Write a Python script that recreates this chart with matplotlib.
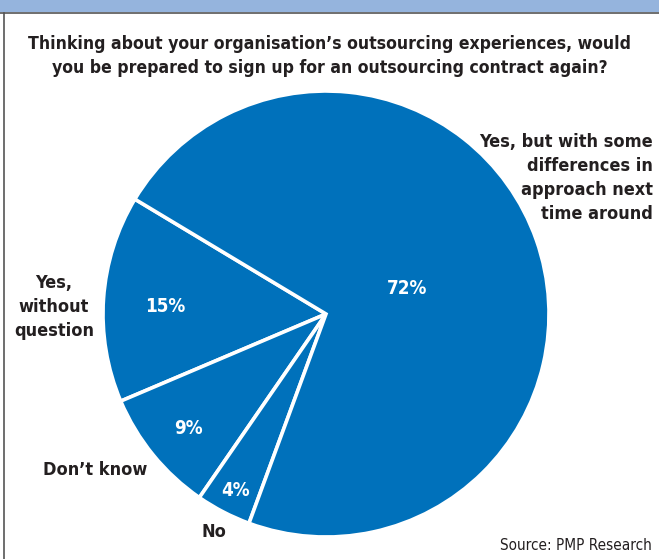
import matplotlib
matplotlib.use("Agg")
import matplotlib.pyplot as plt
from matplotlib.patches import Rectangle
from matplotlib.lines import Line2D

plt.rcParams['font.family'] = ['DejaVu Sans']
plt.rcParams['font.stretch'] = 'condensed'

# survey answers, counter-clockwise from the upper-left slice boundary
answers = ['Yes,\nwithout\nquestion', 'Don\u2019t know', 'No',
           'Yes, but with some\ndifferences in\napproach next\ntime around']
shares = [15, 9, 4, 72]

W, H = 659, 559
BLUE = '#0071bb'

fig = plt.figure(figsize=(W / 100, H / 100), dpi=100)
fig.patch.set_facecolor('white')


def px(x, y):
    # pixel position (from top-left) to figure fraction
    return x / W, 1 - y / H


# header strip and frame
fig.add_artist(Rectangle((0, 1 - 12 / H), 1, 12 / H, transform=fig.transFigure,
                         facecolor='#95b4dd', edgecolor='none'))
fig.add_artist(Line2D([0, 1], [1 - 12.5 / H] * 2, transform=fig.transFigure,
                      color='#555555', lw=1.2))
fig.add_artist(Line2D([3.5 / W] * 2, [0, 1 - 12.5 / H], transform=fig.transFigure,
                      color='#555555', lw=1.2))

# pie placed by pixel centre and radius
cx, cy, r = 326, 314, 223
ax = fig.add_axes([(cx - r) / W, (H - cy - r) / H, 2 * r / W, 2 * r / H])
wedges, texts, autotexts = ax.pie(
    shares, startangle=149, counterclock=True, colors=[BLUE] * 4,
    wedgeprops=dict(edgecolor='white', linewidth=2.6),
    autopct='%d%%', textprops=dict(color='white', fontsize=13.5, fontweight='bold'))
ax.set_xlim(-1, 1)
ax.set_ylim(-1, 1)
ax.set_aspect('equal')
ax.axis('off')

pct_pos = [(165, 307), (188, 428), (235, 490), (407, 288)]
for t, (x, y) in zip(autotexts, pct_pos):
    t.set_position(((x - cx) / r, (cy - y) / r))
    t.set_ha('center')
    t.set_va('center')

# category labels outside the pie
label_pos = [(54, 307, 'center', 'center'), (95, 470, 'center', 'center'),
             (214, 532, 'center', 'center'), (653, 178, 'right', 'center')]
for name, (x, y, ha, va) in zip(answers, label_pos):
    fig.text(*px(x, y), name, ha=ha, va=va, ma=ha, fontsize=13,
             fontweight='bold', color='#231f20', linespacing=1.42)

fig.text(*px(330, 56),
         'Thinking about your organisation\u2019s outsourcing experiences, would\n'
         'you be prepared to sign up for an outsourcing contract again?',
         ha='center', va='center', fontsize=12.6, fontweight='bold',
         color='#231f20', linespacing=1.45)

fig.text(*px(652, 546), 'Source: PMP Research', ha='right', va='center',
         fontsize=11, color='#231f20')

fig.savefig('out.png', dpi=100)
